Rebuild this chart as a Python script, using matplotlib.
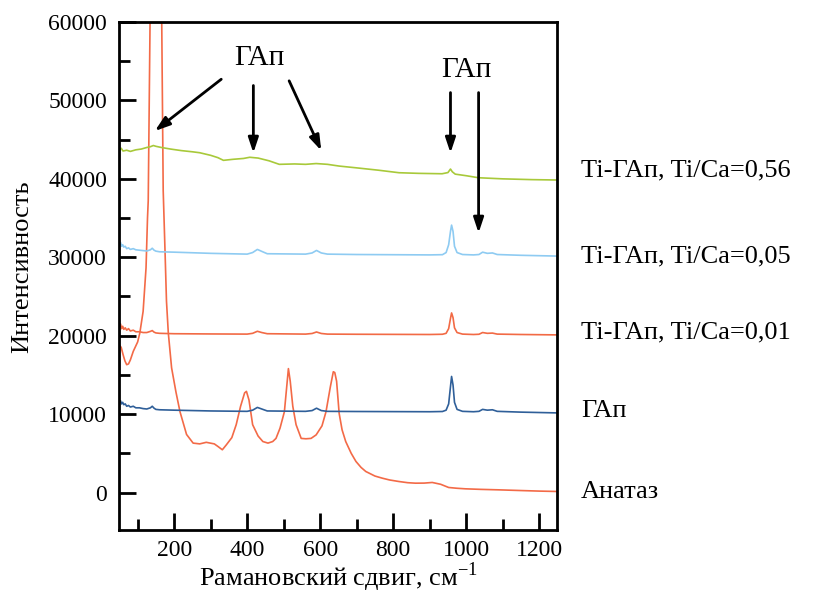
import matplotlib
matplotlib.use('Agg')
import matplotlib.pyplot as plt
from matplotlib.ticker import MultipleLocator
import matplotlib.transforms as mtransforms

plt.rcParams['font.family'] = 'serif'
plt.rcParams['font.serif'] = ['Liberation Serif', 'DejaVu Serif']
plt.rcParams['mathtext.fontset'] = 'custom'
plt.rcParams['mathtext.rm'] = 'Liberation Serif'

# Анатаз
x_anat = [50, 55, 60, 65, 70, 75, 80, 88, 100, 106, 115, 123, 127, 129, 134, 142, 150, 158, 166,
          170, 175, 179, 184, 193, 205, 216, 234, 252, 270, 288, 310, 320, 332, 343, 358, 370, 382,
          393, 398, 405, 415, 430, 443, 457, 470, 479, 490, 502, 508, 513, 518, 525, 534, 548,
          561, 575, 589, 605, 616, 628, 636, 640, 645, 652, 660, 670, 685, 698, 712, 725, 750,
          770, 790, 816, 840, 861, 885, 907, 930, 952, 975, 998, 1040, 1089, 1150, 1200, 1250]
y_anat = [18800, 18500, 17600, 16800, 16300, 16400, 16900, 18000, 19200, 20350, 23100, 28650, 35000,
          37200, 60000, 100000, 120000, 100000, 60000,
          38500, 30800, 24400, 20350, 15900, 12800, 10300, 7400, 6300, 6200, 6400, 6200, 5870, 5450,
          6080, 7000, 8650, 11000, 12700, 12900, 11800, 8650, 7200, 6500, 6300, 6500, 6900, 8200,
          10300, 13300, 15800, 14200, 11000, 8650, 6900, 6850, 6900, 7350, 8500, 10300, 13500, 15400,
          15300, 14200, 10100, 8000, 6500, 5000, 3960, 3200, 2680, 2100, 1830, 1600, 1400, 1250,
          1190, 1200, 1280, 1050, 640, 540, 470, 400, 340, 250, 180, 130]

# ГАп
x_hap = [50, 53, 56, 59, 62, 66, 70, 75, 80, 88, 95, 105, 115, 125, 135, 140, 145, 150, 160, 200,
         300, 400, 415, 428, 440, 455, 560, 578, 590, 603, 620, 700, 900, 935, 945, 952, 957, 960,
         964, 968, 975, 990, 1020, 1035, 1045, 1058, 1072, 1085, 1150, 1250]
y_hap = [11500, 11700, 11300, 11500, 11200, 11300, 11000, 11100, 10900, 11000, 10800, 10800, 10700,
         10650, 10800, 11000, 10750, 10600, 10550, 10500, 10400, 10350, 10500, 10850, 10650, 10400,
         10350, 10450, 10750, 10450, 10350, 10330, 10300, 10330, 10500, 11300, 13500, 14800, 13700,
         11500, 10600, 10350, 10300, 10350, 10600, 10500, 10550, 10350, 10250, 10150]

# Ti-ГАп, Ti/Ca=0,01
x_ti01 = [50, 53, 56, 59, 62, 66, 70, 75, 80, 88, 95, 105, 115, 125, 135, 140, 145, 150, 160, 200,
          300, 400, 415, 428, 440, 455, 560, 578, 590, 603, 620, 700, 900, 935, 945, 952, 957, 960,
          964, 968, 975, 990, 1020, 1035, 1045, 1058, 1072, 1085, 1150, 1250]
y_ti01 = [21100, 21500, 20900, 21200, 20800, 21000, 20700, 20900, 20600, 20700, 20500, 20500, 20400,
          20400, 20550, 20650, 20450, 20350, 20300, 20250, 20220, 20200, 20300, 20560, 20400, 20250,
          20200, 20280, 20470, 20280, 20200, 20180, 20150, 20180, 20300, 20900, 22200, 22900, 22300,
          21000, 20400, 20200, 20150, 20180, 20400, 20300, 20330, 20200, 20150, 20100]

# Ti-ГАп, Ti/Ca=0,05
x_ti05 = [50, 53, 56, 59, 62, 66, 70, 75, 80, 88, 95, 105, 115, 125, 135, 140, 145, 150, 160, 200,
          300, 400, 415, 428, 440, 455, 560, 578, 590, 603, 620, 700, 900, 935, 945, 952, 957, 960,
          964, 968, 975, 990, 1020, 1035, 1045, 1058, 1072, 1085, 1150, 1250]
y_ti05 = [31600, 31900, 31400, 31600, 31300, 31400, 31100, 31200, 31000, 31100, 30950, 30900, 30850,
          30800, 30950, 31150, 30900, 30780, 30700, 30650, 30500, 30400, 30600, 31000, 30750, 30450,
          30400, 30550, 30870, 30550, 30400, 30350, 30300, 30330, 30600, 31600, 33300, 34100, 33300,
          31400, 30600, 30350, 30300, 30350, 30650, 30500, 30550, 30350, 30250, 30150]

# Ti-ГАп, Ti/Ca=0,56
x_ti56 = [50, 55, 60, 70, 80, 95, 110, 125, 135, 143, 150, 165, 190, 220, 250, 270, 300, 320, 335,
          361, 390, 407, 430, 460, 488, 530, 560, 589, 620, 652, 700, 760, 816, 870, 934, 950,
          957, 962, 970, 1000, 1034, 1100, 1180, 1250]
y_ti56 = [43600, 43900, 43550, 43650, 43500, 43700, 43800, 44000, 44100, 44250, 44150, 44000, 43800,
          43600, 43450, 43330, 43000, 42700, 42360, 42490, 42600, 42750, 42650, 42300, 41850, 41900,
          41850, 41950, 41850, 41630, 41400, 41100, 40780, 40700, 40650, 40800, 41250, 40900, 40600,
          40400, 40140, 40000, 39900, 39850]

series = [
    (x_anat, y_anat, '#f36a47'),
    (x_hap, y_hap, '#2f5f99'),
    (x_ti01, y_ti01, '#f26a45'),
    (x_ti05, y_ti05, '#8ecbf2'),
    (x_ti56, y_ti56, '#a8c93a'),
]

labels = ['Ti-ГАп, Ti/Ca=0,56', 'Ti-ГАп, Ti/Ca=0,05', 'Ti-ГАп, Ti/Ca=0,01', 'ГАп', 'Анатаз']
label_y = [41100, 30150, 20400, 10450, 100]

fig = plt.figure(figsize=(8.32, 5.95), dpi=100)
ax = fig.add_axes([0.1435, 0.109, 0.5265, 0.854])

for xs, ys, c in series:
    ax.plot(xs, ys, color=c, lw=1.2)

ax.set_xlim(50, 1250)
ax.set_ylim(-4800, 60000)
ax.xaxis.set_major_locator(MultipleLocator(200))
ax.xaxis.set_minor_locator(MultipleLocator(100))
ax.yaxis.set_major_locator(MultipleLocator(10000))
ax.yaxis.set_minor_locator(MultipleLocator(5000))
ax.tick_params(which='both', direction='in', top=False, right=False, width=2, labelsize=17)
ax.tick_params(which='major', length=12)
ax.tick_params(axis='y', pad=9)
ax.tick_params(axis='x', pad=7)
ax.tick_params(which='minor', length=8)
for s in ax.spines.values():
    s.set_linewidth(2)

ax.set_xlabel('Рамановский сдвиг, см$^{{-}1}$', fontsize=19, labelpad=0)
ax.set_ylabel('Интенсивность', fontsize=19)
ax.yaxis.set_label_coords(-0.197, 0.518)

trans = mtransforms.blended_transform_factory(ax.transAxes, ax.transData)
for lab, yv in zip(labels, label_y):
    ax.text(1.054, yv, lab, transform=trans, fontsize=19, va='center', ha='left')

# стрелки ГАп
ax.text(434, 55400, 'ГАп', fontsize=21, ha='center', va='center')
ax.text(1001, 53900, 'ГАп', fontsize=21, ha='center', va='center')
arrows = [((329, 52700), (147, 46100)),
          ((417, 51900), (417, 43300)),
          ((515, 52500), (603, 43600)),
          ((957, 51000), (957, 43300)),
          ((1034, 51000), (1034, 33100))]
for start, end in arrows:
    ax.annotate('', xy=end, xytext=start,
                arrowprops=dict(arrowstyle='-|>,head_length=0.9,head_width=0.3', color='black',
                                lw=2, shrinkA=0, shrinkB=0))

fig.savefig('out.png', dpi=100)
